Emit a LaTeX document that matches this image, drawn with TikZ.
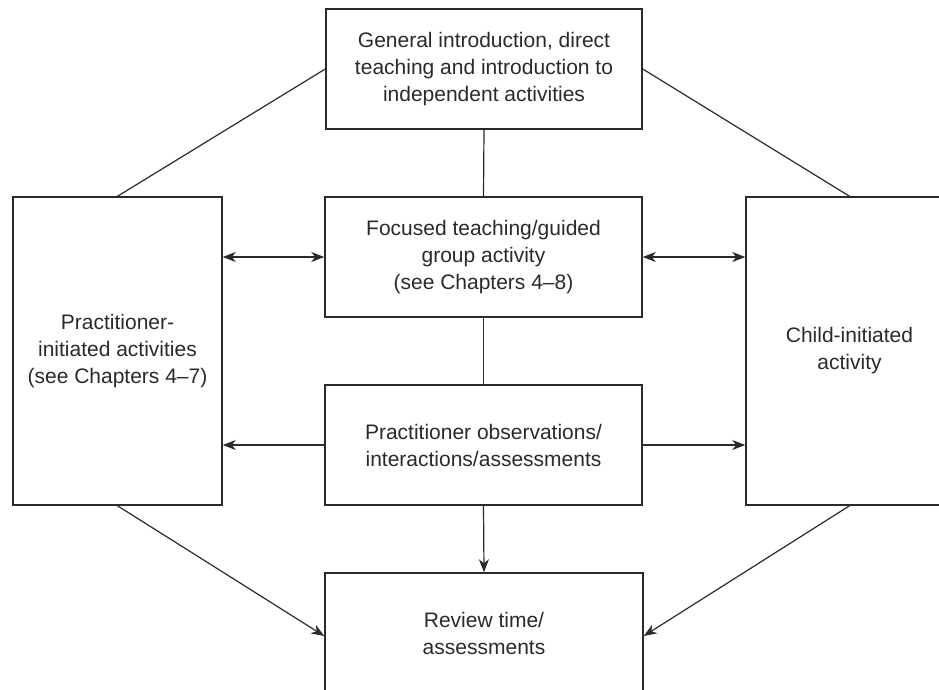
\documentclass[tikz,border=0pt]{standalone}
\usepackage{fontspec}
\setmainfont{Liberation Sans}
\usetikzlibrary{arrows.meta}
\definecolor{ink}{HTML}{2A2A2A}
\begin{document}
\begin{tikzpicture}[x=1pt,y=-1pt,
  box/.style={draw=ink,line width=1.5pt,align=center,text=ink,inner sep=0pt,
     font=\fontsize{21}{27}\selectfont},
  conn/.style={draw=ink,line width=1.2pt},
  arr/.style={conn,-{Stealth[length=13pt,width=10pt,inset=4pt]}},
  darr/.style={conn,{Stealth[length=13pt,width=10pt,inset=4pt]}-{Stealth[length=13pt,width=10pt,inset=4pt]}}]
\useasboundingbox (0,0) rectangle (939,689);
\clip (0,0) rectangle (939,689);
\node[box,minimum width=316pt,minimum height=120pt] (top) at (484,69)
  {General introduction, direct\\teaching and introduction to\\independent activities};
\node[box,minimum width=317pt,minimum height=120pt] (mid) at (483.5,257)
  {Focused teaching/guided\\group activity\\(see Chapters 4--8)};
\node[box,minimum width=317pt,minimum height=120pt] (obs) at (483.5,445)
  {Practitioner observations/\\interactions/assessments};
\node[box,minimum width=318pt,minimum height=120pt] (rev) at (484,633)
  {Review time/\\assessments};
\node[box,minimum width=209pt,minimum height=308pt] (left) at (117.5,351)
  {Practitioner-\\initiated activities\\(see Chapters 4--7)};
\node[box,minimum width=207pt,minimum height=308pt] (right) at (849.5,351)
  {Child-initiated\\activity};
\draw[conn] (top.west) -- (left.north);
\draw[conn] (top.east) -- (right.north);
\draw[conn] (top.south) -- (mid.north);
\draw[conn] (mid.south) -- (obs.north);
\draw[darr] (mid.west) -- (mid.west -| left.east);
\draw[darr] (mid.east) -- (mid.east -| right.west);
\draw[arr] (obs.west) -- (obs.west -| left.east);
\draw[arr] (obs.east) -- (obs.east -| right.west);
\draw[arr] (obs.south) -- (rev.north);
\draw[arr] (left.south) -- ([yshift=-3pt]rev.west);
\draw[arr] (right.south) -- ([yshift=-3pt]rev.east);
\end{tikzpicture}
\end{document}
